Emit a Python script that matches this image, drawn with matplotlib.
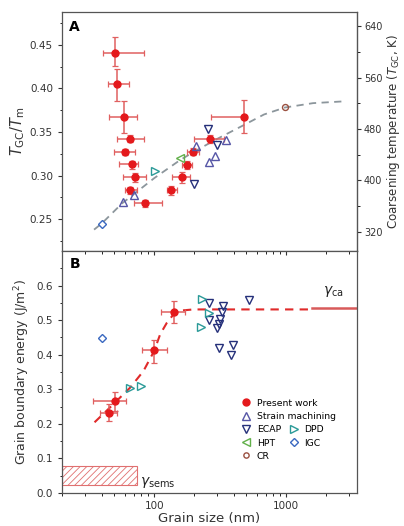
import matplotlib
matplotlib.use("Agg")
import matplotlib.pyplot as plt
from matplotlib.ticker import MultipleLocator, LogLocator, NullFormatter, FixedLocator
import numpy as np

plt.rcParams['font.family'] = ['DejaVu Sans']
plt.rcParams['hatch.linewidth'] = 0.6

# ---------------- Panel A data ----------------
pw_x = [50.7, 51.9, 58.9, 65.0, 60.2, 67.3, 71.0, 65.8, 85.5, 134.5, 162.2, 178.7, 196.3, 267, 478]
pw_y = [0.441, 0.405, 0.3676, 0.342, 0.3274, 0.3129, 0.298, 0.283, 0.268, 0.283, 0.298, 0.3124, 0.3274, 0.342, 0.367]
pw_xlo = [40.6, 44.3, 45.4, 52.7, 50.0, 54.3, 58.5, 60.0, 69.7, 124.8, 136, 162, 177, 202, 269]
pw_xhi = [83, 64.7, 74, 84, 71.8, 76, 86.5, 74, 115.6, 148.5, 187.4, 193, 220, 339, 478]
pw_ylo = [0.426, 0.386, 0.3485, 0.338, 0.3235, 0.308, 0.293, 0.279, 0.264, 0.278, 0.292, 0.307, 0.323, 0.337, 0.349]
pw_yhi = [0.459, 0.422, 0.386, 0.346, 0.331, 0.317, 0.303, 0.2865, 0.2715, 0.288, 0.304, 0.317, 0.332, 0.347, 0.3865]

sm_x = [57.9, 69.7, 208, 262.6, 290, 349]
sm_y = [0.270, 0.2776, 0.334, 0.315, 0.3228, 0.3408]
ecapA_x = [257.6, 300, 200]
ecapA_y = [0.353, 0.3347, 0.290]
dpdA_x = [101.8]
dpdA_y = [0.305]
hptA_x = [158.3]
hptA_y = [0.320]
igcA_x = [40.2]
igcA_y = [0.2443]
crA_x = [982]
crA_y = [0.379]

fitA_x = [35, 40, 57, 100, 158, 210, 300, 480, 680, 980, 1600, 2700]
fitA_y = [0.238, 0.245, 0.268, 0.297, 0.318, 0.329, 0.342, 0.358, 0.370, 0.378, 0.383, 0.385]

T_melt = 1358.0

# ---------------- Panel B data ----------------
pwB_x = [45.1, 50.7, 100, 141]
pwB_y = [0.231, 0.265, 0.413, 0.523]
pwB_xlo = [39, 34.4, 80.7, 112]
pwB_xhi = [52, 61.4, 124.8, 172]
pwB_ylo = [0.207, 0.238, 0.377, 0.4925]
pwB_yhi = [0.257, 0.291, 0.4416, 0.555]

ecapB_x = [262, 331, 326, 262, 316, 311, 298, 312, 399, 381, 527]
ecapB_y = [0.550, 0.541, 0.524, 0.499, 0.502, 0.490, 0.476, 0.419, 0.428, 0.400, 0.558]
dpdB_x = [230, 262, 226, 65.8, 79.3]
dpdB_y = [0.5616, 0.521, 0.480, 0.305, 0.310]
igcB_x = [40.2]
igcB_y = [0.449]

fitB_x = [35.3, 46.4, 65.8, 83, 100, 111, 124.8, 140, 162, 199, 1515]
fitB_y = [0.2045, 0.248, 0.305, 0.353, 0.411, 0.459, 0.4925, 0.5165, 0.528, 0.531, 0.531]

gca_x = [1567, 3450]
gca_y = [0.534, 0.534]
gsems_x = [20, 73.8]
gsems_y = [0.024, 0.077]

# colours
RED = '#e4191c'
ERR = '#e06060'
NAVY = '#25307a'
SM = '#5656a6'
TEAL = '#2a9a98'
GREEN = '#62b04a'
BLUE = '#3a68c0'
BROWN = '#9a5040'
GRAY = '#8c969c'
TXT = '#333333'

fig = plt.figure(figsize=(4.04, 5.26), dpi=100)
L, R = 62/404, 357/404
axA = fig.add_axes([L, 1-251/526, R-L, (251-12)/526])
axB = fig.add_axes([L, 1-493/526, R-L, (493-251)/526])

XLIM = (20, 3450)
fs = 7.5

def err_pts(ax, x, y, xlo, xhi, ylo, yhi):
    x = np.array(x); y = np.array(y)
    xerr = [x - np.array(xlo), np.array(xhi) - x]
    yerr = [y - np.array(ylo), np.array(yhi) - y]
    ax.errorbar(x, y, xerr=xerr, yerr=yerr, fmt='none', ecolor=ERR, elinewidth=1.1,
                capsize=2.2, capthick=0.9, zorder=3)
    ax.plot(x, y, 'o', color=RED, ms=5.0, zorder=4, label='Present work')

open_kw = dict(linestyle='none', mfc='none', ms=5.2, mew=1.0, zorder=5)

# ---- Panel A
axA.plot(fitA_x, fitA_y, '--', color=GRAY, lw=1.3, dashes=(4, 3), zorder=2)
err_pts(axA, pw_x, pw_y, pw_xlo, pw_xhi, pw_ylo, pw_yhi)
axA.plot(sm_x, sm_y, marker='^', color=SM, **open_kw)
axA.plot(ecapA_x, ecapA_y, marker='v', color=NAVY, **open_kw)
axA.plot(dpdA_x, dpdA_y, marker='>', color=TEAL, **open_kw)
axA.plot(hptA_x, hptA_y, marker='<', color=GREEN, **open_kw)
axA.plot(igcA_x, igcA_y, marker='D', color=BLUE, linestyle='none', mfc='none', ms=4.3, mew=1.0, zorder=5)
axA.plot(crA_x, crA_y, marker='o', color=BROWN, linestyle='none', mfc='none', ms=4.3, mew=1.0, zorder=5)

axA.set_xscale('log')
axA.set_xlim(*XLIM)
axA.set_ylim(0.2135, 0.4875)
axA.yaxis.set_major_locator(FixedLocator([0.25, 0.30, 0.35, 0.40, 0.45]))
axA.yaxis.set_major_formatter(plt.FuncFormatter(lambda v, p: f'{v:.2f}'))
axA.yaxis.set_minor_locator(MultipleLocator(0.025))
axA.tick_params(axis='x', which='both', bottom=False, labelbottom=False)
axA.tick_params(axis='y', which='major', direction='out', length=3, width=0.8, labelsize=fs, colors=TXT)
axA.tick_params(axis='y', which='minor', direction='out', length=1.8, width=0.6)
axA.set_ylabel(r'$T_{\rm GC}/T_{\rm m}$', fontsize=10.5, labelpad=2, color=TXT)
axA.text(0.025, 0.965, 'A', transform=axA.transAxes, fontsize=10, fontweight='bold', va='top', ha='left')

sec = axA.secondary_yaxis('right', functions=(lambda v: v*T_melt, lambda t: t/T_melt))
sec.yaxis.set_major_locator(FixedLocator([320, 400, 480, 560, 640]))
sec.yaxis.set_minor_locator(FixedLocator([360, 440, 520, 600]))
sec.tick_params(axis='y', which='major', direction='out', length=3, width=0.8, labelsize=fs-0.5,
                colors=TXT, pad=2)
sec.tick_params(axis='y', which='minor', direction='out', length=1.8, width=0.6)
sec.set_ylabel(r'Coarsening temperature ($T_{\rm GC}$, K)', fontsize=8.6, labelpad=2, color=TXT)

# ---- Panel B
axB.add_patch(plt.Rectangle((gsems_x[0], gsems_y[0]), gsems_x[1]-gsems_x[0], gsems_y[1]-gsems_y[0],
                            facecolor='none', edgecolor='#e07070', hatch='/////', lw=0.8, zorder=1))
axB.plot(gca_x, gca_y, '-', color='#d85a5a', lw=1.8, zorder=2)
axB.plot(fitB_x, fitB_y, '--', color='#e02a2a', lw=1.5, dashes=(4, 3), zorder=2)

err_pts(axB, pwB_x, pwB_y, pwB_xlo, pwB_xhi, pwB_ylo, pwB_yhi)
axB.plot([], [], marker='^', color=SM, **open_kw, label='Strain machining')
axB.plot(ecapB_x, ecapB_y, marker='v', color=NAVY, **open_kw, label='ECAP')
axB.plot(dpdB_x, dpdB_y, marker='>', color=TEAL, **open_kw, label='DPD')
axB.plot([], [], marker='<', color=GREEN, **open_kw, label='HPT')
axB.plot(igcB_x, igcB_y, marker='D', color=BLUE, linestyle='none', mfc='none', ms=4.3, mew=1.0, zorder=5, label='IGC')
axB.plot([], [], marker='o', color=BROWN, linestyle='none', mfc='none', ms=3.8, mew=1.0, label='CR')

axB.text(1900, 0.56, r'$\gamma_{\rm ca}$', fontsize=10, ha='left', va='bottom', color='#222222')
axB.text(78, 0.03, r'$\gamma_{\rm sems}$', fontsize=10, ha='left', va='center', color='#222222')
axB.text(0.025, 0.975, 'B', transform=axB.transAxes, fontsize=10, fontweight='bold', va='top', ha='left')

axB.set_xscale('log')
axB.set_xlim(*XLIM)
axB.set_ylim(0, 0.7)
axB.yaxis.set_major_locator(FixedLocator([0.0, 0.1, 0.2, 0.3, 0.4, 0.5, 0.6]))
axB.yaxis.set_major_formatter(plt.FuncFormatter(lambda v, p: f'{v:.1f}'))
axB.yaxis.set_minor_locator(FixedLocator([0.05, 0.15, 0.25, 0.35, 0.45, 0.55, 0.65]))
axB.xaxis.set_major_locator(LogLocator(base=10, numticks=10))
axB.xaxis.set_minor_locator(LogLocator(base=10, subs=np.arange(2, 10), numticks=20))
axB.xaxis.set_minor_formatter(NullFormatter())
axB.xaxis.set_major_formatter(plt.FuncFormatter(lambda v, p: f'{int(round(v))}'))
axB.tick_params(axis='x', which='major', direction='out', length=3, width=0.8, labelsize=fs, top=True,
                colors=TXT, pad=2.5)
axB.tick_params(axis='x', which='minor', direction='out', length=1.8, width=0.6, top=True)
axB.tick_params(axis='x', which='both', top=True)
for t in axB.xaxis.get_major_ticks() + axB.xaxis.get_minor_ticks():
    t.tick2line.set_marker(3)  # inward from top
axB.tick_params(axis='y', which='major', direction='out', length=3, width=0.8, labelsize=fs, colors=TXT)
axB.tick_params(axis='y', which='minor', direction='out', length=1.8, width=0.6)
axB.set_xlabel('Grain size (nm)', fontsize=9.5, labelpad=1, color=TXT)
axB.set_ylabel(r'Grain boundary energy (J/m$^2$)', fontsize=9, labelpad=3, color=TXT)

h, lab = axB.get_legend_handles_labels()
d = dict(zip(lab, h))
lfs = 6.7
leg1 = axB.legend([d['Present work'], d['Strain machining']], ['Present work', 'Strain machining'],
                  loc='upper left', bbox_to_anchor=(0.6, 0.405), frameon=False, fontsize=lfs,
                  handlelength=0.8, handletextpad=0.7, borderaxespad=0, labelspacing=0.45)
axB.add_artist(leg1)
axB.legend([d['ECAP'], d['HPT'], d['CR'], d['DPD'], d['IGC']], ['ECAP', 'HPT', 'CR', 'DPD', 'IGC'],
           ncol=2, loc='upper left', bbox_to_anchor=(0.6, 0.295), frameon=False, fontsize=lfs,
           handlelength=0.8, handletextpad=0.7, borderaxespad=0, labelspacing=0.45, columnspacing=1.0)

for ax in (axA, axB):
    for s in ax.spines.values():
        s.set_color('#555555')
        s.set_linewidth(0.9)

fig.savefig('out.png', dpi=100)
